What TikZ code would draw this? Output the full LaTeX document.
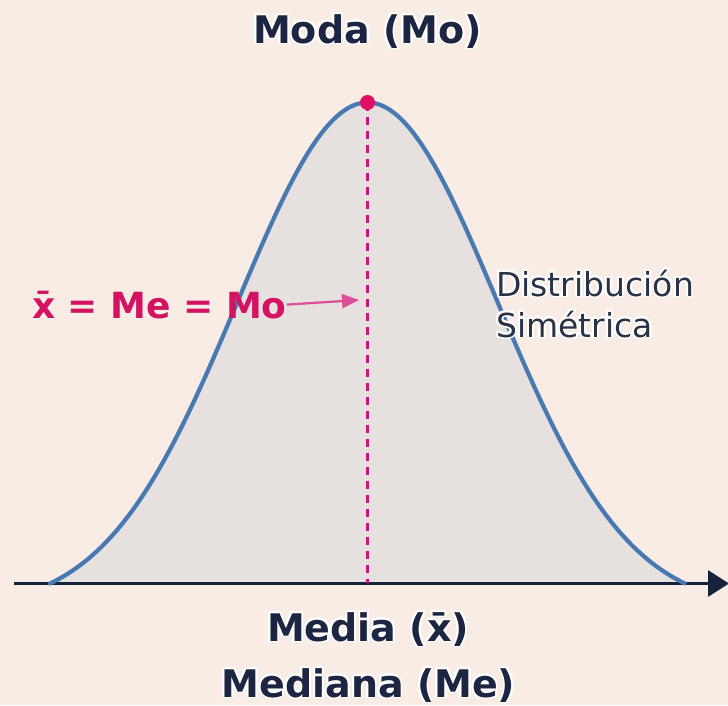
\documentclass[tikz,border=0pt]{standalone}
\usepackage{fontspec}
\setmainfont{DejaVu Sans}
\usepackage[copies]{contour}
\contourlength{1.8pt}
\contournumber{24}
\usetikzlibrary{arrows.meta}
\definecolor{bgpeach}{HTML}{F8ECE4}
\definecolor{fillgray}{HTML}{E6E0DE}
\definecolor{curveblue}{HTML}{4879B3}
\definecolor{axisnavy}{HTML}{16213A}
\definecolor{textnavy}{HTML}{1C2541}
\definecolor{magline}{HTML}{CF167C}
\definecolor{magdot}{HTML}{E00F66}
\definecolor{magtext}{HTML}{D41262}
\definecolor{pinkarrow}{HTML}{DA4F98}
\definecolor{graytext}{HTML}{2A3345}
\tikzset{
  titletext/.style={text=textnavy, inner sep=0pt, font=\fontsize{38}{45}\selectfont\bfseries},
  eqtext/.style={text=magtext, inner sep=0pt, font=\fontsize{36}{42}\selectfont\bfseries},
  disttext/.style={text=graytext, inner sep=0pt, font=\fontsize{33}{40}\selectfont},
  curveline/.style={draw=curveblue, line width=4.2pt},
  axisline/.style={draw=axisnavy, line width=3pt, -{Triangle[length=21pt,width=26pt]}},
  modeline/.style={draw=magline, line width=3.4pt, dash pattern=on 8.5pt off 5.5pt},
  eqarrow/.style={draw=pinkarrow, line width=2.2pt, -{Triangle[length=17pt,width=14pt]}}
}
\begin{document}
\begin{tikzpicture}[x=1pt,y=-1pt]
\useasboundingbox[fill=bgpeach] (0,0) rectangle (728,705);
% filled bell
\fill[fillgray] plot[domain=-2.4423:2.4423, samples=200, variable=\u]
  ({367.5+130*\u},{583.5-481*(exp(-\u*\u/2)-0.05067)/0.94933}) -- cycle;
% axis
\coordinate (axL) at (14,583.5);
\coordinate (axR) at (729,583.5);
\draw[axisline] (axL) -- (axR);
% curve
\draw[curveline, line cap=round] plot[domain=-2.4423:2.4423, samples=200, variable=\u]
  ({367.5+130*\u},{583.5-481*(exp(-\u*\u/2)-0.05067)/0.94933});
% mode line
\coordinate (peak) at (367.5,102.5);
\coordinate (foot) at (367.5,583);
\draw[modeline] (peak) -- (foot);
\fill[magdot] (peak) circle (7.5);
% texts
\node[titletext, anchor=base] (moda) at (367.5,43) {\contour{white}{Moda (Mo)}};
\node[titletext, anchor=base] (media) at (368,641) {\contour{white}{Media (x̄)}};
\node[titletext, anchor=base] (mediana) at (368.5,697) {\contour{white}{Mediana (Me)}};
\node[disttext, anchor=base west] (dist1) at (496,296) {\contour{white}{Distribución}};
\node[disttext, anchor=base west] (dist2) at (496,337) {\contour{white}{Simétrica}};
\node[eqtext, anchor=base west] (eq) at (32,318) {x̄ = Me = Mo};
\coordinate (arrtip) at (359,300);
\draw[eqarrow] (eq.east) -- (arrtip);
\end{tikzpicture}
\end{document}
